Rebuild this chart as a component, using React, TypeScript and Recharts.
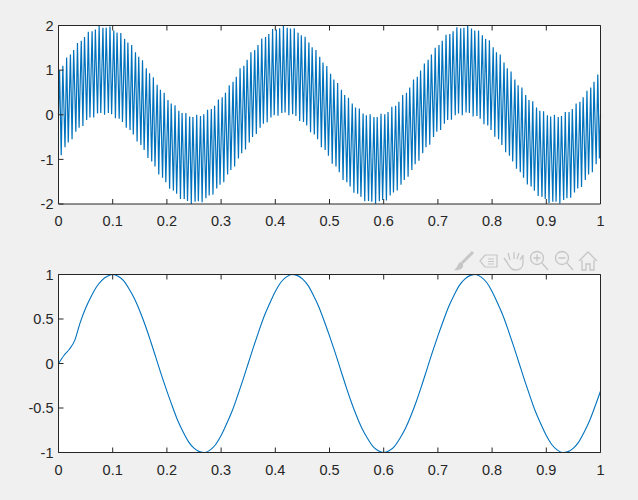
import React from "react";
import { LineChart, Line, XAxis, YAxis, CartesianGrid } from "recharts";

// x positions of the samples in the top plot, read as one row per 0.1
const topTime = [
  0,
  0.002, 0.005, 0.008, 0.012, 0.015, 0.018, 0.022, 0.025, 0.028, 0.032, 0.035, 0.038, 0.042, 0.045, 0.048, 0.052, 0.055, 0.058, 0.062, 0.065, 0.068, 0.072, 0.075, 0.078, 0.082, 0.085, 0.088, 0.092, 0.095, 0.098,
  0.102, 0.105, 0.108, 0.112, 0.115, 0.118, 0.122, 0.125, 0.128, 0.132, 0.135, 0.138, 0.142, 0.145, 0.148, 0.152, 0.155, 0.158, 0.162, 0.165, 0.168, 0.172, 0.175, 0.178, 0.182, 0.185, 0.188, 0.192, 0.195, 0.198,
  0.202, 0.205, 0.208, 0.212, 0.215, 0.218, 0.222, 0.225, 0.228, 0.232, 0.235, 0.238, 0.242, 0.245, 0.248, 0.252, 0.255, 0.258, 0.262, 0.265, 0.268, 0.272, 0.275, 0.278, 0.282, 0.285, 0.288, 0.292, 0.295, 0.298,
  0.302, 0.305, 0.308, 0.312, 0.315, 0.318, 0.322, 0.325, 0.328, 0.332, 0.335, 0.338, 0.342, 0.345, 0.348, 0.352, 0.355, 0.358, 0.362, 0.365, 0.368, 0.372, 0.375, 0.378, 0.382, 0.385, 0.388, 0.392, 0.395, 0.398,
  0.402, 0.405, 0.408, 0.412, 0.415, 0.418, 0.422, 0.425, 0.428, 0.432, 0.435, 0.438, 0.442, 0.445, 0.448, 0.452, 0.455, 0.458, 0.462, 0.465, 0.468, 0.472, 0.475, 0.478, 0.482, 0.485, 0.488, 0.492, 0.495, 0.498,
  0.502, 0.505, 0.508, 0.512, 0.515, 0.518, 0.522, 0.525, 0.528, 0.532, 0.535, 0.538, 0.542, 0.545, 0.548, 0.552, 0.555, 0.558, 0.562, 0.565, 0.568, 0.572, 0.575, 0.578, 0.582, 0.585, 0.588, 0.592, 0.595, 0.598,
  0.602, 0.605, 0.608, 0.612, 0.615, 0.618, 0.622, 0.625, 0.628, 0.632, 0.635, 0.638, 0.642, 0.645, 0.648, 0.652, 0.655, 0.658, 0.662, 0.665, 0.668, 0.672, 0.675, 0.678, 0.682, 0.685, 0.688, 0.692, 0.695, 0.698,
  0.702, 0.705, 0.708, 0.712, 0.715, 0.718, 0.722, 0.725, 0.728, 0.732, 0.735, 0.738, 0.742, 0.745, 0.748, 0.752, 0.755, 0.758, 0.762, 0.765, 0.768, 0.772, 0.775, 0.778, 0.782, 0.785, 0.788, 0.792, 0.795, 0.798,
  0.802, 0.805, 0.808, 0.812, 0.815, 0.818, 0.822, 0.825, 0.828, 0.832, 0.835, 0.838, 0.842, 0.845, 0.848, 0.852, 0.855, 0.858, 0.862, 0.865, 0.868, 0.872, 0.875, 0.878, 0.882, 0.885, 0.888, 0.892, 0.895, 0.898,
  0.902, 0.905, 0.908, 0.912, 0.915, 0.918, 0.922, 0.925, 0.928, 0.932, 0.935, 0.938, 0.942, 0.945, 0.948, 0.952, 0.955, 0.958, 0.962, 0.965, 0.968, 0.972, 0.975, 0.978, 0.982, 0.985, 0.988, 0.992, 0.995, 0.998,
  1,
];

const topSignal = [
  0,
  0.99, -0.91, 1.1, -0.73, 1.28, -0.62, 1.35, -0.55, 1.45, -0.38, 1.61, -0.29, 1.66, -0.25, 1.74, -0.12, 1.86, -0.06, 1.87, -0.06, 1.91, 0.03, 1.99, 0.04, 1.95, 0, 1.95, 0.04, 1.98, 0.01,
  1.89, -0.08, 1.84, -0.09, 1.83, -0.16, 1.7, -0.29, 1.62, -0.34, 1.56, -0.44, 1.4, -0.6, 1.3, -0.68, 1.22, -0.79, 1.04, -0.97, 0.93, -1.05, 0.84, -1.16, 0.67, -1.34, 0.56, -1.41, 0.49, -1.51,
  0.33, -1.66, 0.25, -1.7, 0.21, -1.77, 0.09, -1.89, 0.04, -1.89, 0.04, -1.93, -0.04, -2, -0.05, -1.95, 0, -1.94, -0.03, -1.96, 0.01, -1.87, 0.11, -1.81, 0.13, -1.79, 0.2, -1.65, 0.34, -1.57,
  0.39, -1.51, 0.49, -1.34, 0.66, -1.24, 0.74, -1.16, 0.85, -0.98, 1.04, -0.86, 1.1, -0.78, 1.23, -0.62, 1.4, -0.5, 1.45, -0.43, 1.56, -0.29, 1.71, -0.2, 1.74, -0.17, 1.81, -0.06, 1.92, -0.01,
  1.91, -0.02, 1.94, 0.04, 2, 0.05, 1.95, -0.01, 1.93, 0.01, 1.94, -0.03, 1.84, -0.14, 1.78, -0.16, 1.75, -0.24, 1.62, -0.39, 1.51, -0.44, 1.45, -0.55, 1.3, -0.73, 1.17, -0.79, 1.09, -0.92,
  0.92, -1.1, 0.79, -1.16, 0.71, -1.29, 0.56, -1.46, 0.44, -1.51, 0.38, -1.61, 0.25, -1.75, 0.16, -1.77, 0.14, -1.84, 0.03, -1.94, -0.01, -1.93, 0.01, -1.95, -0.05, -2, -0.05, -1.94, 0.02, -1.91,
  0.01, -1.92, 0.06, -1.81, 0.18, -1.74, 0.2, -1.7, 0.29, -1.57, 0.44, -1.46, 0.49, -1.39, 0.61, -1.24, 0.79, -1.11, 0.85, -1.03, 0.99, -0.86, 1.15, -0.73, 1.23, -0.67, 1.35, -0.5, 1.5, -0.38,
  1.56, -0.34, 1.66, -0.2, 1.79, -0.12, 1.81, -0.11, 1.87, -0.01, 1.96, 0.03, 1.94, -0.01, 1.95, 0.05, 2, 0.04, 1.93, -0.04, 1.89, -0.03, 1.89, -0.09, 1.78, -0.21, 1.7, -0.24, 1.67, -0.34,
  1.51, -0.49, 1.4, -0.55, 1.35, -0.68, 1.17, -0.84, 1.04, -0.92, 0.97, -1.05, 0.79, -1.21, 0.66, -1.29, 0.61, -1.41, 0.44, -1.56, 0.33, -1.61, 0.3, -1.7, 0.16, -1.82, 0.09, -1.84, 0.08, -1.89,
  -0.01, -1.98, -0.04, -1.95, 0, -1.95, -0.05, -1.99, -0.03, -1.91, 0.06, -1.87, 0.06, -1.86, 0.13, -1.74, 0.25, -1.65, 0.29, -1.62, 0.39, -1.46, 0.54, -1.34, 0.61, -1.29, 0.74, -1.11, 0.9, -0.98,
  0,
];

const bottomTime = [
  0, 0.01, 0.02, 0.03, 0.04, 0.05, 0.06, 0.07, 0.08, 0.09,
  0.1, 0.11, 0.12, 0.13, 0.14, 0.15, 0.16, 0.17, 0.18, 0.19,
  0.2, 0.21, 0.22, 0.23, 0.24, 0.25, 0.26, 0.27, 0.28, 0.29,
  0.3, 0.31, 0.32, 0.33, 0.34, 0.35, 0.36, 0.37, 0.38, 0.39,
  0.4, 0.41, 0.42, 0.43, 0.44, 0.45, 0.46, 0.47, 0.48, 0.49,
  0.5, 0.51, 0.52, 0.53, 0.54, 0.55, 0.56, 0.57, 0.58, 0.59,
  0.6, 0.61, 0.62, 0.63, 0.64, 0.65, 0.66, 0.67, 0.68, 0.69,
  0.7, 0.71, 0.72, 0.73, 0.74, 0.75, 0.76, 0.77, 0.78, 0.79,
  0.8, 0.81, 0.82, 0.83, 0.84, 0.85, 0.86, 0.87, 0.88, 0.89,
  0.9, 0.91, 0.92, 0.93, 0.94, 0.95, 0.96, 0.97, 0.98, 0.99,
  1,
];

const bottomSignal = [
  0, 0.09, 0.16, 0.26, 0.46, 0.62, 0.75, 0.86, 0.935, 0.98,
  1, 0.98, 0.93, 0.84, 0.73, 0.59, 0.43, 0.25, 0.06, -0.13,
  -0.31, -0.48, -0.64, -0.77, -0.88, -0.95, -0.99, -1, -0.97, -0.91,
  -0.81, -0.68, -0.54, -0.37, -0.19, 0, 0.19, 0.37, 0.54, 0.68,
  0.81, 0.91, 0.97, 1, 0.99, 0.95, 0.88, 0.77, 0.64, 0.48,
  0.31, 0.13, -0.06, -0.25, -0.43, -0.59, -0.73, -0.84, -0.93, -0.98,
  -1, -0.98, -0.93, -0.84, -0.73, -0.59, -0.43, -0.25, -0.06, 0.13,
  0.31, 0.48, 0.64, 0.77, 0.88, 0.95, 0.99, 1, 0.97, 0.91,
  0.81, 0.68, 0.54, 0.37, 0.19, 0, -0.19, -0.37, -0.54, -0.68,
  -0.81, -0.91, -0.97, -1, -0.99, -0.95, -0.88, -0.77, -0.64, -0.48,
  -0.31,
];

const xTicks = [0, 0.1, 0.2, 0.3, 0.4, 0.5, 0.6, 0.7, 0.8, 0.9, 1];
const topYTicks = [-2, -1, 0, 1, 2];
const bottomYTicks = [-1, -0.5, 0, 0.5, 1];

const BLUE = "#0072BD";
const INK = "#262626";
const ICON = "#c6c6c6";

const topData = topTime.map((t, i) => ({ t, v: topSignal[i] }));
const bottomData = bottomTime.map((t, i) => ({ t, v: bottomSignal[i] }));

const axisLine = { stroke: INK, strokeWidth: 1 };
const tickLine = { stroke: INK, strokeWidth: 1 };
const tickFont = { fill: INK, fontSize: 14.5, fontFamily: "'Liberation Sans', Arial, sans-serif" };

function Plot({ data, yTicks, top, height, curve, lineWidth }: { data: { t: number; v: number }[]; yTicks: number[]; top: number; height: number; curve: "linear" | "monotone"; lineWidth: number }) {
  return (
    <div style={{ position: "absolute", left: 0, top }}>
      <LineChart width={638} height={height} data={data} margin={{ top: 19.5, right: 0, bottom: 0, left: 0 }}>
        <CartesianGrid xAxisId="b" yAxisId="l" horizontal={false} vertical={false} fill="#ffffff" fillOpacity={1} />
        <XAxis xAxisId="b" dataKey="t" type="number" domain={[0, 1]} ticks={xTicks} interval={0} height={30} tickSize={-5} tickMargin={17} axisLine={axisLine} tickLine={tickLine} tick={tickFont} />
        <XAxis xAxisId="t" orientation="top" dataKey="t" type="number" domain={[0, 1]} ticks={xTicks} interval={0} height={1} tickSize={-5} tickMargin={-5} axisLine={axisLine} tickLine={tickLine} tickFormatter={() => ""} />
        <YAxis yAxisId="l" type="number" domain={[yTicks[0], yTicks[yTicks.length - 1]]} ticks={yTicks} interval={0} width={58.5} tickSize={-5} tickMargin={10} axisLine={axisLine} tickLine={tickLine} tick={tickFont} />
        <YAxis yAxisId="r" orientation="right" type="number" domain={[yTicks[0], yTicks[yTicks.length - 1]]} ticks={yTicks} interval={0} width={37.5} tickSize={-5} tickMargin={-5} axisLine={axisLine} tickLine={tickLine} tickFormatter={() => ""} />
        <Line xAxisId="b" yAxisId="l" dataKey="v" type={curve} stroke={BLUE} strokeWidth={lineWidth} dot={false} isAnimationActive={false} />
      </LineChart>
    </div>
  );
}

// figure toolbar that hovers over the lower axes
function Toolbar() {
  return (
    <svg width={150} height={24} style={{ position: "absolute", left: 452, top: 249 }} fill="none" stroke={ICON} strokeWidth={1.5}>
      <path d="M21 3 L10 14" strokeWidth={3} />
      <path d="M9 13 C5 14 6 19 2 21 C7 22 12 20 11 15 Z" fill={ICON} stroke="none" />
      <path d="M28 12 L33 6 H45 V18 H33 Z M36 10 H42 M36 12.5 H42 M36 15 H42" strokeWidth={1.2} />
      <path d="M55 13 L52 9 M58 11 L56 4 M62 10 V3 M65 10 L67 4 M68 11 L71 6 M71 6 V14 C71 19 67 21 63 21 C59 21 58 18 52 9" strokeWidth={1.3} />
      <circle cx={85} cy={9} r={6.5} strokeWidth={1.3} />
      <path d="M81.5 9 H88.5 M85 5.5 V12.5 M90 14 L96 21" strokeWidth={1.3} />
      <circle cx={110} cy={9} r={6.5} strokeWidth={1.3} />
      <path d="M106.5 9 H113.5 M115 14 L121 21" strokeWidth={1.3} />
      <path d="M127 12 L136 3 L145 12 M130 11 V21 H134 V15 H138 V21 H142 V11" strokeWidth={1.3} />
    </svg>
  );
}

export default function App() {
  return (
    <div style={{ position: "absolute", left: 0, top: 0, width: 638, height: 500, background: "#f0f0f0", overflow: "hidden" }}>
      <Plot data={topData} yTicks={topYTicks} top={5} height={229} curve="linear" lineWidth={1.2} />
      <Plot data={bottomData} yTicks={bottomYTicks} top={254} height={228.5} curve="monotone" lineWidth={1.1} />
      <Toolbar />
    </div>
  );
}
